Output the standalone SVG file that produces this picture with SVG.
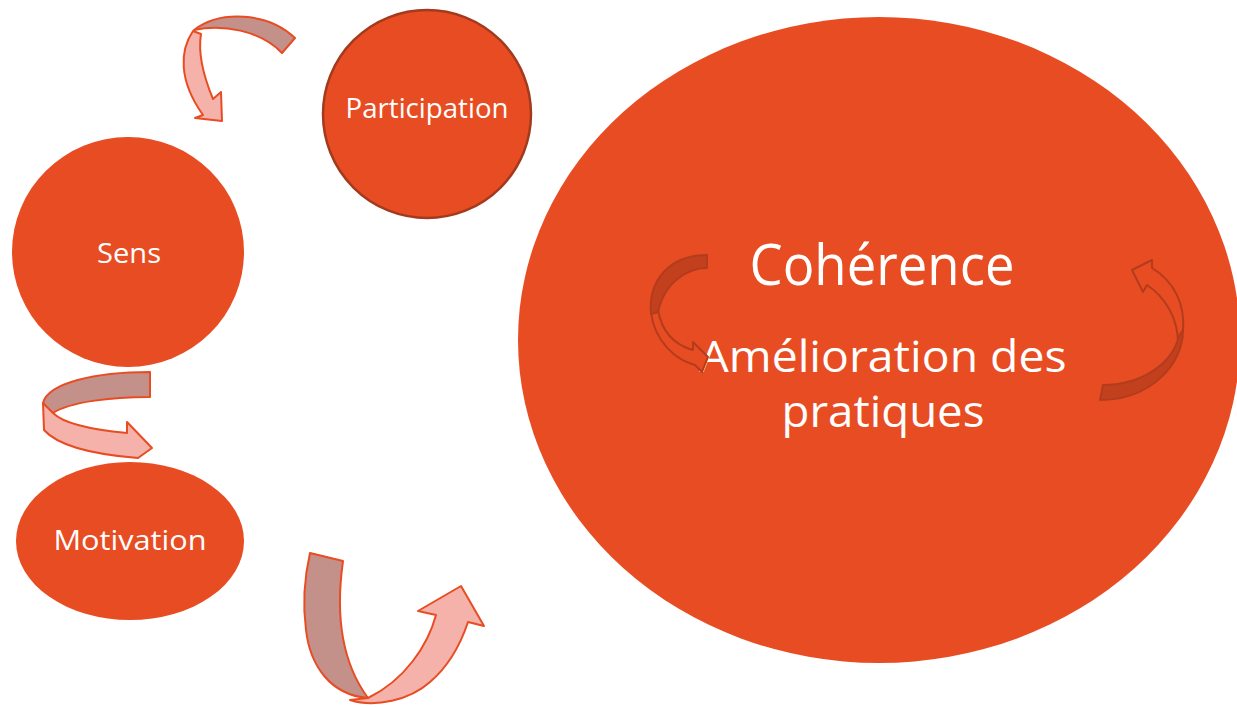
<svg xmlns="http://www.w3.org/2000/svg" width="1237" height="707" viewBox="0 0 1237 707">
<style>
.node{fill:#E84C22}
.lbl{fill:#FFFFFF;font-family:"Open Sans","Noto Sans",sans-serif;text-anchor:middle}
.rd{fill:#C4908A;stroke:#E84C22;stroke-width:2;stroke-linejoin:round}
.rl{fill:#F4B2AB;stroke:#E84C22;stroke-width:2;stroke-linejoin:round}
.id{fill:#C2401D;stroke:#B33C1C;stroke-width:2;stroke-linejoin:round}
.il{fill:#E84C22;stroke:#B33C1C;stroke-width:2;stroke-linejoin:round}
</style>
<rect width="1237" height="707" fill="#FFFFFF"/>
<g id="participation">
<circle class="node" cx="427" cy="114" r="104" stroke="#A33A1D" stroke-width="2.5"/>
<text class="lbl" x="427" y="118" font-size="28" textLength="163" lengthAdjust="spacingAndGlyphs">Participation</text>
</g>
<g id="sens">
<ellipse class="node" cx="128" cy="252" rx="116" ry="115"/>
<text class="lbl" x="129" y="263" font-size="28" textLength="64" lengthAdjust="spacingAndGlyphs">Sens</text>
</g>
<g id="motivation">
<ellipse class="node" cx="130" cy="541" rx="114" ry="79"/>
<text class="lbl" x="130" y="550" font-size="28" textLength="153" lengthAdjust="spacingAndGlyphs">Motivation</text>
</g>
<g id="coherence">
<ellipse class="node" cx="879" cy="340" rx="361" ry="323"/>
<text class="lbl" x="882" y="285" font-size="56" textLength="265" lengthAdjust="spacingAndGlyphs">Cohérence</text>
<text class="lbl" x="883" y="372" font-size="44" textLength="367" lengthAdjust="spacingAndGlyphs">Amélioration des</text>
<text class="lbl" x="883" y="427" font-size="44" textLength="203" lengthAdjust="spacingAndGlyphs">pratiques</text>
</g>
<g id="connectors">
<path class="rd" d="M295,38 C268,12 220,10 194,30 C222,24 260,30 282,53 Z"/>
<path class="rl" d="M193,31 C180,50 178,80 203,115 L195,118 L222,121 L221,92 L213,99 C203,75 198,52 201,34 Z"/>
<path class="rd" d="M150,372 C95,372 48,383 43,403 C45,408 49,411 53,413 C70,402 110,397 150,397 Z"/>
<path class="rl" d="M43,403 L44,430 C60,448 100,455 138,458 L152,448 L127,422 L127,433 C95,430 65,425 53,413 Z"/>
<path class="rd" d="M310,553 L343,561 C336,610 340,660 368,698 C330,695 310,665 306,630 C302,600 305,575 310,553 Z"/>
<path class="rl" d="M350,700 C375,708 410,700 430,682 C450,665 462,640 468,622 L484,626 L461,586 L418,611 L436,615 C428,645 405,680 368,698 Z"/>
<path class="il" d="M651,312 C654,340 675,360 695,365 L702,372 L708,357 L693,342 L693,350 C675,345 662,333 658,310 Z"/>
<path class="id" d="M707,255 L707,268 C690,268 665,280 658,312 L651,314 C648,280 670,255 707,255 Z"/>
<path class="il" d="M1183,330 C1185,305 1175,282 1152,268 L1152,260 L1132,270 L1143,292 L1147,285 C1165,297 1178,318 1178,343 Z"/>
<path class="id" d="M1103,385 C1140,385 1172,365 1179,336 L1183,330 C1183,365 1150,400 1100,400 Z"/>
</g>
</svg>
